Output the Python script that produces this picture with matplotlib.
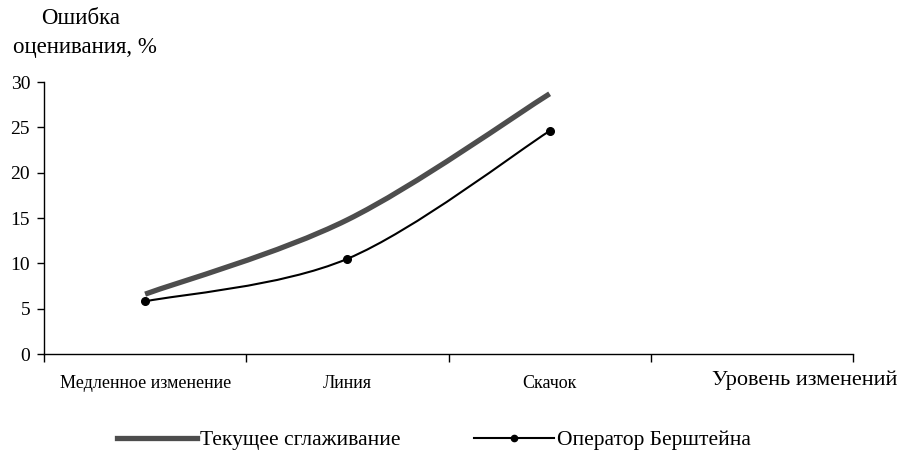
import matplotlib
matplotlib.use("Agg")
import matplotlib.pyplot as plt
from matplotlib.path import Path
from matplotlib.patches import PathPatch
from matplotlib.lines import Line2D

categories = ["Медленное изменение", "Линия", "Скачок", ""]
smooth_vals = [6.6, 14.8, 28.7]
bernstein_vals = [5.8, 10.5, 24.6]
yticks = [0, 5, 10, 15, 20, 25, 30]
series_names = ["Текущее сглаживание", "Оператор Берштейна"]

plt.rcParams['font.family'] = ['Liberation Serif', 'DejaVu Serif']

fig = plt.figure(figsize=(9.01, 4.61), dpi=100)
ax = fig.add_axes([44/901, 1-354/461, (853-44)/901, (354-82)/461])


def smooth_path(xs, ys):
    n = len(xs)
    verts = [(xs[0], ys[0])]
    codes = [Path.MOVETO]
    for i in range(n - 1):
        ip = max(i - 1, 0)
        inx = min(i + 2, n - 1)
        c1 = (xs[i] + (xs[i+1] - xs[ip]) / 6, ys[i] + (ys[i+1] - ys[ip]) / 6)
        c2 = (xs[i+1] - (xs[inx] - xs[i]) / 6, ys[i+1] - (ys[inx] - ys[i]) / 6)
        verts += [c1, c2, (xs[i+1], ys[i+1])]
        codes += [Path.CURVE4] * 3
    return Path(verts, codes)


xs = list(range(len(smooth_vals)))
gray = "#4d4d4d"
ax.add_patch(PathPatch(smooth_path(xs, smooth_vals), facecolor="none",
                       edgecolor=gray, lw=3.8, capstyle="butt", zorder=3))
ax.add_patch(PathPatch(smooth_path(xs, bernstein_vals), facecolor="none",
                       edgecolor="black", lw=1.5, zorder=4))
ax.plot(xs, bernstein_vals, linestyle="none", marker="o", ms=5.5,
        color="black", zorder=5)

ax.set_xlim(-0.5, len(categories) - 0.5)
ax.set_ylim(0, 30)
ax.set_yticks(yticks)
ax.set_yticklabels([str(v) for v in yticks], fontsize=14)
ax.set_xticks([i - 0.5 for i in range(len(categories) + 1)])
ax.set_xticklabels([])
ax.tick_params(axis="x", direction="out", length=6, width=1)
ax.tick_params(axis="y", direction="out", length=5, width=1, pad=5)
for s in ["top", "right"]:
    ax.spines[s].set_visible(False)
for s in ["left", "bottom"]:
    ax.spines[s].set_linewidth(1)

for i, c in enumerate(categories):
    if c:
        ax.text(i, -3.3, c, ha="center", va="center", fontsize=13,
                transform=ax.transData)

fig.text(897/901, 1-380/461, "Уровень изменений", ha="right", va="center",
         fontsize=16)
fig.text(81/901, 1-18/461, "Ошибка", ha="center", va="center", fontsize=16.5)
fig.text(85/901, 1-48/461, "оценивания, %", ha="center", va="center",
         fontsize=16.5)

handles = [Line2D([], [], color=gray, lw=3.8),
           Line2D([], [], color="black", lw=1.5, marker="o", ms=4.5)]
fig.legend(handles, series_names, loc="center", ncol=2,
           bbox_to_anchor=(434/901, 1-440/461), frameon=False,
           fontsize=15.5, handlelength=3.7, handletextpad=0.15,
           columnspacing=3.4)

fig.savefig("out.png", dpi=100)
